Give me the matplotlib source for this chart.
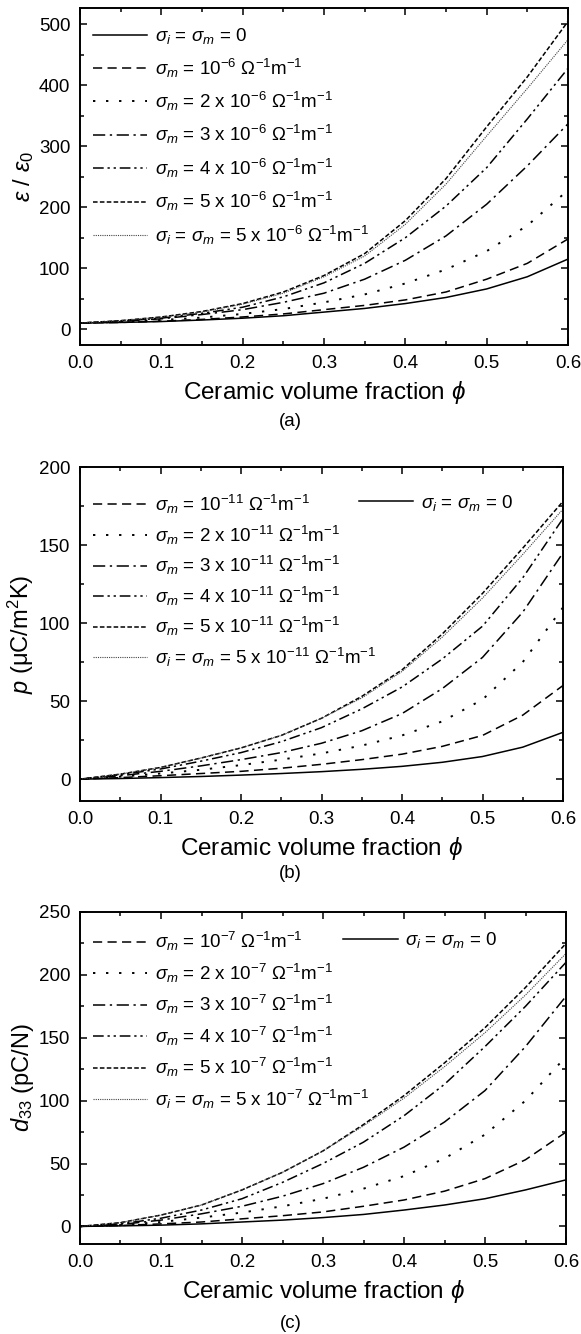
import matplotlib
matplotlib.use('Agg')
import matplotlib.pyplot as plt
from matplotlib.ticker import MultipleLocator

plt.rcParams['font.family'] = ['Liberation Sans', 'DejaVu Sans']
plt.rcParams['mathtext.fontset'] = 'custom'
plt.rcParams['mathtext.rm'] = 'Liberation Sans'
plt.rcParams['mathtext.it'] = 'Liberation Sans:italic'
plt.rcParams['mathtext.default'] = 'it'

# ceramic volume fraction (read every 0.05)
phi = [0.0, 0.05, 0.1, 0.15, 0.2, 0.25, 0.3, 0.35, 0.4, 0.45, 0.5, 0.55, 0.6]

# (a) relative permittivity
eps_zero = [10, 11, 12.5, 15, 18, 22, 28, 34, 42, 52, 66, 86, 115]
eps_m1 = [10, 11, 13, 16, 20, 25, 32, 39, 48, 61, 82, 108, 148]
eps_m2 = [10, 12, 15, 19, 25, 33, 44, 57, 75, 98, 128, 170, 228]
eps_m3 = [10, 13, 17, 24, 32, 44, 59, 82, 113, 153, 205, 268, 337]
eps_m4 = [10, 13, 18, 26, 36, 53, 76, 108, 150, 202, 265, 345, 428]
eps_m5 = [10, 14, 20, 29, 42, 61, 88, 124, 178, 247, 332, 414, 505]
eps_im5 = [10, 14, 20, 28, 41, 59, 86, 120, 172, 238, 317, 395, 475]

# (b) pyroelectric coefficient
p_zero = [0, 0.4, 1, 1.7, 2.6, 3.6, 4.8, 6.3, 8.2, 10.8, 14.5, 20.5, 30]
p_m1 = [0, 1, 2.2, 3.6, 5, 7, 9.5, 12.5, 16, 21, 28, 41, 60]
p_m2 = [0, 1.6, 3.6, 6, 9, 12.5, 16.5, 21.5, 28, 37, 51, 75, 110]
p_m3 = [0, 2.2, 5, 8.5, 12.5, 17, 23, 31, 42, 58, 78, 107, 145]
p_m4 = [0, 2.8, 6.5, 11.5, 17, 24, 33, 45, 59, 77, 98, 129, 167]
p_m5 = [0, 3.2, 7.5, 13.5, 20, 28, 39, 53, 70, 93, 119, 148, 178]
p_im5 = [0, 3.2, 7.5, 13.5, 20, 28, 39, 52, 69, 91, 116, 144, 173]

# (c) piezoelectric coefficient
d_zero = [0, 0.4, 1, 2, 3.5, 5, 7, 9.5, 13, 17, 22, 29, 37]
d_m1 = [0, 0.7, 2, 3.5, 6, 8.5, 11.5, 16, 21, 28, 38, 53, 75]
d_m2 = [0, 1, 3.5, 7, 11, 16, 22, 30, 40, 54, 73, 100, 135]
d_m3 = [0, 1.5, 5, 10, 16, 24, 34, 47, 63, 83, 108, 143, 183]
d_m4 = [0, 2, 6.5, 13, 22, 35, 50, 67, 88, 113, 143, 175, 210]
d_m5 = [0, 3, 9, 17, 29, 43, 60, 81, 104, 130, 158, 190, 225]
d_im5 = [0, 3, 9, 17, 29, 43, 60, 80, 102, 127, 154, 184, 217]

multipliers = ['', '2 x ', '3 x ', '4 x ', '5 x ']
exponents = ['-6', '-11', '-7']

styles = [
    dict(ls='-', lw=1.1, color='black'),
    dict(ls=(0, (6, 3.5)), lw=1.1, color='black'),
    dict(ls=(0, (1.2, 5.5)), lw=1.4, color='black'),
    dict(ls=(0, (8, 3, 1.5, 3)), lw=1.1, color='black'),
    dict(ls=(0, (7, 2.5, 1.5, 2.5, 1.5, 2.5)), lw=1.1, color='black'),
    dict(ls=(0, (3, 1.5)), lw=1.1, color='black'),
    dict(ls=(0, (1, 1)), lw=0.8, color='#444444'),
]


def labels_for(exp):
    unit = r' $\mathrm{\Omega}^{\mathrm{-1}}$m$^{\mathrm{-1}}$'
    labs = [r'$\sigma_i$ = $\sigma_m$ = 0']
    for m in multipliers:
        labs.append(r'$\sigma_m$ = ' + m + r'10$^{\mathrm{' + exp + '}}$' + unit)
    labs.append(r'$\sigma_i$ = $\sigma_m$ = 5 x 10$^{\mathrm{' + exp + '}}$' + unit)
    return labs


fig = plt.figure(figsize=(5.81, 13.34), dpi=100)

panels = [
    dict(rect=[80, 8, 568, 345], data=[eps_zero, eps_m1, eps_m2, eps_m3, eps_m4, eps_m5, eps_im5],
         ylim=(-26, 527), major=100, minor=50, ylabel=r'$\varepsilon$ / $\varepsilon_{\mathrm{0}}$',
         cap='(a)', cap_y=422, leg_y=0.985),
    dict(rect=[80, 467, 563, 801], data=[p_zero, p_m1, p_m2, p_m3, p_m4, p_m5, p_im5],
         ylim=(-14, 200), major=50, minor=25, ylabel=r'$p$ ($\mathrm{\mu}$C/m$^{\mathrm{2}}$K)',
         cap='(b)', cap_y=873, leg_y=0.962),
    dict(rect=[80, 912, 566, 1244], data=[d_zero, d_m1, d_m2, d_m3, d_m4, d_m5, d_im5],
         ylim=(-14, 250), major=50, minor=25, ylabel=r'$d_{\mathrm{33}}$ (pC/N)',
         cap='(c)', cap_y=1323, leg_y=0.985),
]

W, H = 581.0, 1334.0
for k, pan in enumerate(panels):
    l, t, r, b = pan['rect']
    ax = fig.add_axes([l / W, 1 - b / H, (r - l) / W, (b - t) / H])
    labs = labels_for(exponents[k])
    lines = []
    for ser, st, lab in zip(pan['data'], styles, labs):
        ln, = ax.plot(phi, ser, label=lab, **st)
        lines.append(ln)
    ax.set_xlim(0, 0.6)
    ax.set_ylim(*pan['ylim'])
    ax.xaxis.set_major_locator(MultipleLocator(0.1))
    ax.xaxis.set_minor_locator(MultipleLocator(0.05))
    ax.yaxis.set_major_locator(MultipleLocator(pan['major']))
    ax.yaxis.set_minor_locator(MultipleLocator(pan['minor']))
    ax.xaxis.set_major_formatter(plt.FormatStrFormatter('%.1f'))
    ax.tick_params(which='both', direction='in', top=True, right=True, labelsize=13.5, width=1.1)
    ax.tick_params(which='major', length=5, pad=7)
    ax.tick_params(which='minor', length=3)
    for sp in ax.spines.values():
        sp.set_linewidth(1.4)
    ax.set_xlabel(r'Ceramic volume fraction $\phi$', fontsize=17.5, labelpad=5)
    ax.set_ylabel(pan['ylabel'], fontsize=17, labelpad=2)
    fig.text(0.5, 1 - pan['cap_y'] / H, pan['cap'], ha='center', va='center', fontsize=13.5)

    if k == 0:
        ax.legend(lines, labs, loc='upper left', frameon=False, fontsize=13.5,
                  handlelength=2.9, handletextpad=0.4, labelspacing=0.55,
                  borderaxespad=0.3, bbox_to_anchor=(0.0, pan['leg_y']))
    else:
        leg1 = ax.legend(lines[1:], labs[1:], loc='upper left', frameon=False, fontsize=13.5,
                         handlelength=2.9, handletextpad=0.4,
                         labelspacing=0.4 if k == 1 else 0.45,
                         borderaxespad=0.3, bbox_to_anchor=(0.0, pan['leg_y']))
        ax.add_artist(leg1)
        ax.legend([lines[0]], [labs[0]], loc='upper left', frameon=False, fontsize=13.5,
                  handlelength=2.9, handletextpad=0.4, borderaxespad=0.3,
                  bbox_to_anchor=(0.55 if k == 1 else 0.515, pan['leg_y']))

fig.savefig('out.png', dpi=100)
